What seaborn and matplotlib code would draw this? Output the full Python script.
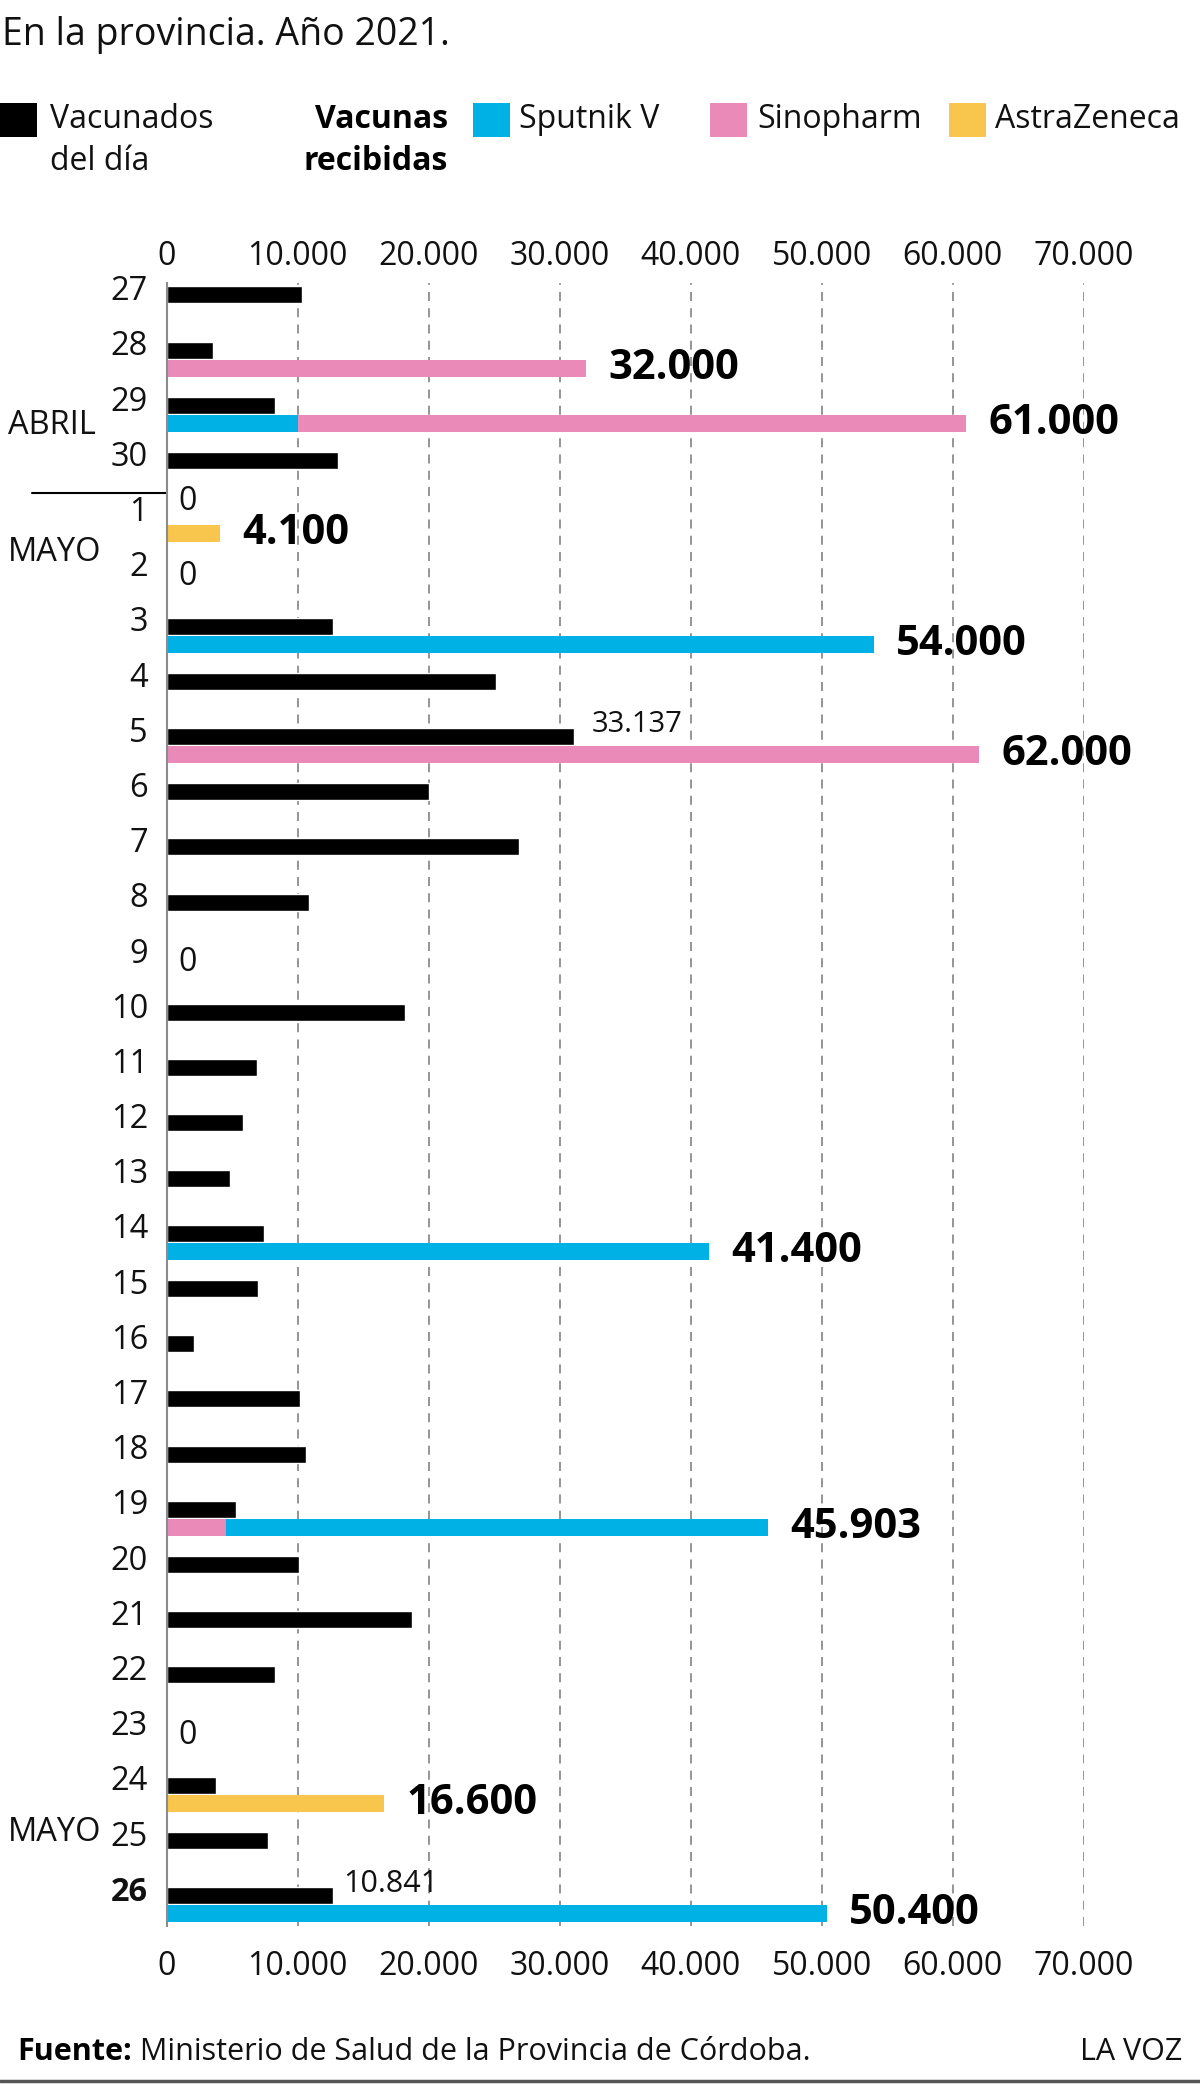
import numpy as np
import pandas as pd
import matplotlib.pyplot as plt
import matplotlib.transforms as mtransforms
from matplotlib.patches import Rectangle
from matplotlib.ticker import FuncFormatter
import seaborn as sns

# datos
dias = ['27', '28', '29', '30', '1', '2', '3', '4', '5', '6', '7', '8', '9', '10',
        '11', '12', '13', '14', '15', '16', '17', '18', '19', '20', '21', '22',
        '23', '24', '25', '26']
vacunados = [10300, 3500, 8300, 13100, 0, 0, 12700, 25100, 31100, 20000, 26900,
             10900, 0, 18200, 6900, 5800, 4800, 7400, 7000, 2100, 10200, 10600,
             5300, 10100, 18700, 8300, 0, 3800, 7700, 12700]
sputnik = [0, 0, 10000, 0, 0, 0, 54000, 0, 0, 0, 0, 0, 0, 0, 0, 0, 0, 41400,
           0, 0, 0, 0, 41403, 0, 0, 0, 0, 0, 0, 50400]
sinopharm = [0, 32000, 51000, 0, 0, 0, 0, 0, 62000, 0, 0, 0, 0, 0, 0, 0, 0, 0,
             0, 0, 0, 0, 4500, 0, 0, 0, 0, 0, 0, 0]
astrazeneca = [0, 0, 0, 0, 4100, 0, 0, 0, 0, 0, 0, 0, 0, 0, 0, 0, 0, 0, 0, 0,
               0, 0, 0, 0, 0, 0, 0, 16600, 0, 0]
etiquetas_vacunados = {'5': '33.137', '26': '10.841'}
orden_especial = {'19': ['Sinopharm', 'Sputnik V']}
ticks = [0, 10000, 20000, 30000, 40000, 50000, 60000, 70000]

colores = {'Sputnik V': '#00b1e6', 'Sinopharm': '#e98ab9', 'AstraZeneca': '#f8c64c'}
vacunas = {'Sputnik V': sputnik, 'Sinopharm': sinopharm, 'AstraZeneca': astrazeneca}

sns.set_style('white')
plt.rcParams['font.family'] = ['Open Sans', 'DejaVu Sans']
TXT = '#111111'

fig = plt.figure(figsize=(12, 20.84), dpi=100)
H = 2084.0
ax = fig.add_axes([166.7 / 1200, 158 / H, 917 / 1200, 1643 / H])

h = 0.308
off = 0.33
pos = np.arange(len(dias))

df = pd.DataFrame({'pos': pos, 'vacunados': vacunados})
sns.barplot(data=df, x='vacunados', y='pos', orient='y', native_scale=True,
            color='black', saturation=1, width=h, errorbar=None, ax=ax)

# vacunas recibidas (barras apiladas)
for i, d in enumerate(dias):
    orden = orden_especial.get(d, ['Sputnik V', 'Sinopharm', 'AstraZeneca'])
    left = 0
    for nombre in orden:
        v = vacunas[nombre][i]
        if v > 0:
            ax.barh(i + off, v, left=left, height=h, color=colores[nombre], lw=0)
            left += v
    if left > 0:
        ax.text(left + 1700, i + off, f'{left:,}'.replace(',', '.'), fontsize=30,
                fontweight='bold', va='center', ha='left', color='black')

# etiquetas de vacunados y días
for i, d in enumerate(dias):
    if vacunados[i] == 0:
        tiene = any(vacunas[n][i] > 0 for n in vacunas)
        ax.text(900, i - 0.25 if tiene else i + 0.1, '0', fontsize=23,
                va='center', ha='left', color=TXT)
    if d in etiquetas_vacunados:
        ax.text(vacunados[i] + (1350 if d == '5' else 800), i - 0.21,
                etiquetas_vacunados[d], fontsize=21 if d == '5' else 22,
                va='center', ha='left', color=TXT)
    ax.text(-1430, i - 0.06, d, fontsize=23.5, ha='right', va='center', color=TXT,
            fontweight='bold' if d == '26' else 'normal', clip_on=False)

ax.set_xlim(0, 70000)
ax.set_ylim(29.55, -0.217)
ax.set_xticks(ticks)
fmt = FuncFormatter(lambda v, p: f'{int(v):,}'.replace(',', '.'))
ax.xaxis.set_major_formatter(fmt)
ax.set_yticks([])
ax.set_xlabel('')
ax.set_ylabel('')
ax.tick_params(axis='x', length=0, pad=17, labelsize=23, labelcolor=TXT)
ax.grid(axis='x', color='#8c8c8c', linestyle=(0, (5, 4)), lw=1.3)
ax.grid(axis='y', visible=False)
for s in ['top', 'right', 'bottom']:
    ax.spines[s].set_visible(False)
ax.spines['left'].set_color('#8c8c8c')
ax.spines['left'].set_linewidth(1.5)
ax.set_axisbelow(True)

sec = ax.secondary_xaxis('top')
sec.set_xticks(ticks)
sec.xaxis.set_major_formatter(fmt)
sec.tick_params(length=0, pad=7, labelsize=23, labelcolor=TXT)
sec.spines['top'].set_visible(False)

# meses
tr = mtransforms.blended_transform_factory(fig.transFigure, ax.transData)
ax.text(8 / 1200, 2.37, 'ABRIL', transform=tr, fontsize=23.5, va='center', color=TXT)
ax.text(8 / 1200, 4.66, 'MAYO', transform=tr, fontsize=23.5, va='center', color=TXT)
ax.text(8 / 1200, 27.85, 'MAYO', transform=tr, fontsize=23.5, va='center', color=TXT)
ax.plot([32 / 1200, 166.7 / 1200], [3.59, 3.59], transform=tr, color='black',
        lw=1.5, clip_on=False)

# título y leyenda
fig.text(0.002, 1 - 35 / H, 'En la provincia. Año 2021.', fontsize=27,
         va='center', ha='left', color=TXT)
cuadros = [(0, 'black'), (473, colores['Sputnik V']), (710, colores['Sinopharm']),
           (949, colores['AstraZeneca'])]
for x0, c in cuadros:
    fig.patches.append(Rectangle((x0 / 1200, 1 - 137 / H), 37 / 1200, 34 / H,
                                 transform=fig.transFigure, color=c, lw=0))
y1 = 1 - 120 / H
y2 = 1 - 162 / H
fig.text(50 / 1200, y1, 'Vacunados', fontsize=23, va='center', color=TXT)
fig.text(50 / 1200, y2, 'del día', fontsize=23, va='center', color=TXT)
fig.text(448 / 1200, y1, 'Vacunas', fontsize=23, va='center', ha='right',
         fontweight='bold', color='black')
fig.text(448 / 1200, y2, 'recibidas', fontsize=23, va='center', ha='right',
         fontweight='bold', color='black')
fig.text(519 / 1200, y1, 'Sputnik V', fontsize=23, va='center', color=TXT)
fig.text(757 / 1200, y1, 'Sinopharm', fontsize=23, va='center', color=TXT)
fig.text(995 / 1200, y1, 'AstraZeneca', fontsize=23, va='center', color=TXT)

# pie
yf = 1 - 2052 / H
fuente = fig.text(17 / 1200, yf, 'Fuente:', fontsize=22, fontweight='bold',
                  va='center', color='black')
fig.add_artist(plt.Annotation(' Ministerio de Salud de la Provincia de Córdoba.',
                              xy=(1, 0.5), xycoords=fuente, va='center',
                              ha='left', fontsize=22, color=TXT))
fig.text(1182 / 1200, yf, 'LA VOZ', fontsize=22, va='center', ha='right', color=TXT)
fig.add_artist(plt.Line2D([0, 1], [1 - 2081 / H, 1 - 2081 / H],
                          transform=fig.transFigure, color='#555555', lw=2.5))

fig.savefig('out.png', dpi=100)
